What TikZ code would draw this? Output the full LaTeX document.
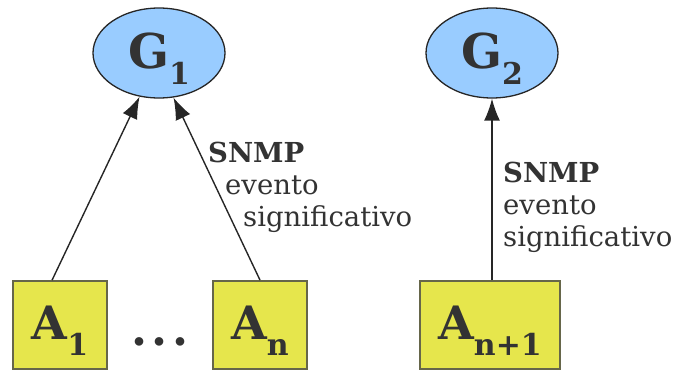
\documentclass[tikz,border=0pt]{standalone}
\usepackage{fontspec}
\setmainfont{DejaVu Serif}
\usetikzlibrary{arrows.meta}
\usetikzlibrary{shapes}

\definecolor{azulG}{HTML}{99CCFF}
\definecolor{amareloA}{HTML}{E6E64C}
\definecolor{bordaA}{HTML}{66664A}
\definecolor{texto}{HTML}{333333}

\newcommand{\indice}[1]{\raisebox{-16pt}[0pt][4pt]{\fontsize{30}{30}\selectfont #1}}

\tikzset{
  gerente/.style={ellipse, draw=black!85, line width=1.3pt, fill=azulG,
    minimum width=132pt, minimum height=90pt, inner sep=0pt, text=texto,
    font=\fontsize{48}{48}\selectfont\bfseries},
  agente/.style={rectangle, draw=bordaA, line width=1.8pt, fill=amareloA,
    minimum height=88pt, inner sep=0pt, text=texto,
    font=\fontsize{46}{46}\selectfont\bfseries},
  msg/.style={-{Latex[length=22pt,width=16pt]}, line width=1.4pt, draw=black!85},
  rotulo/.style={align=left, inner sep=0pt, text=texto,
    font=\fontsize{27.5}{32}\selectfont}
}

\begin{document}
\begin{tikzpicture}[x=1pt,y=-1pt]
    \useasboundingbox (0,0) rectangle (677,372);

    % gerentes
    \node[gerente] (G1) at (159,53) {G\indice{1}};
    \node[gerente] (G2) at (492,53) {G\indice{2}};

    % agentes
    \node[agente, minimum width=94pt] (A1) at (60,325) {A\indice{1}};
    \node[agente, minimum width=94pt] (An) at (260,325) {A\indice{n}};
    \node[agente, minimum width=140pt] (An1) at (490,325) {A\indice{n+1}};
    \node[text=texto, font=\fontsize{46}{46}\selectfont\bfseries] (pontos) at (160,342)
      {.\kern4.5pt.\kern4.5pt.};

    % notificacoes
    \draw[msg] (A1.100) -- (G1.246);
    \draw[msg] (An.north) -- (G1.288);
    \draw[msg] (An1.north -| G2.south) -- (G2.south);

    \node[rotulo, anchor=base west] (evG1) at (208,226)
      {\textbf{SNMP}\\\hspace*{17pt}evento\\\hspace*{35pt}significativo};
    \node[rotulo, anchor=base west] (evG2) at (503,246)
      {\textbf{SNMP}\\evento\\significativo};
\end{tikzpicture}
\end{document}
